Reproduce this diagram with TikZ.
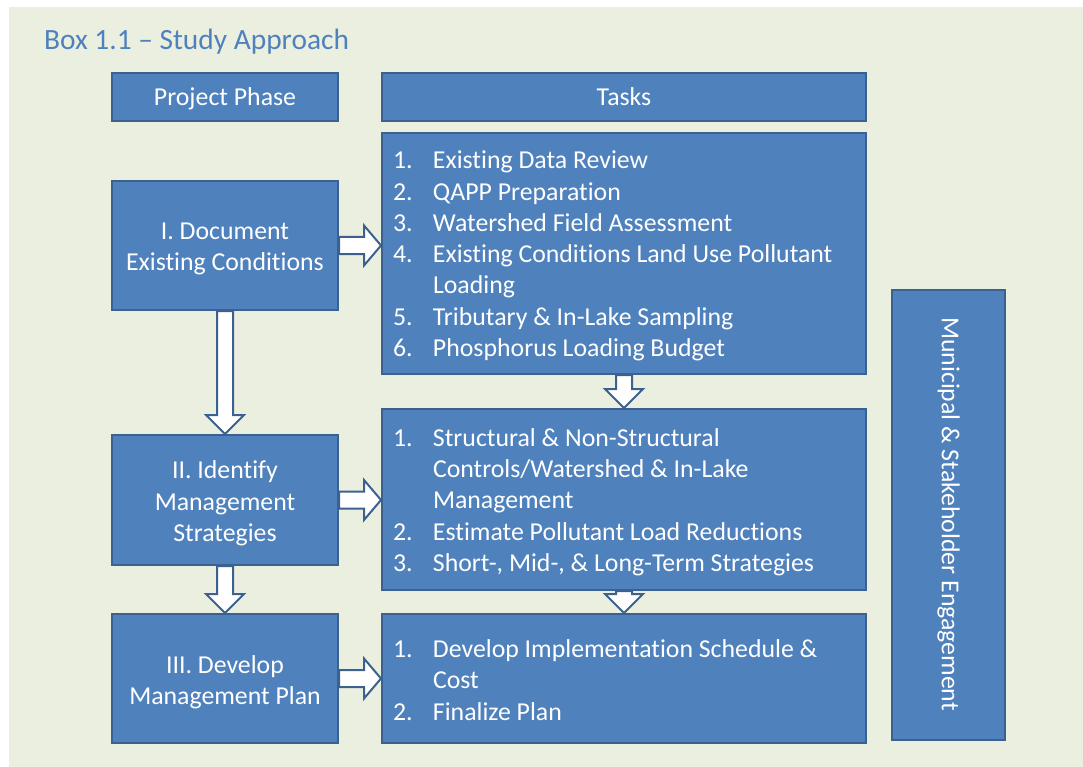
\documentclass[tikz,border=0pt]{standalone}
\usepackage{fontspec}
\setmainfont{Carlito}[Ligatures=NoCommon]
\usetikzlibrary{calc}
\definecolor{panelbg}{HTML}{EBEFE0}
\definecolor{boxfill}{HTML}{4F81BD}
\definecolor{boxline}{HTML}{3A6190}
\definecolor{titleblue}{HTML}{4F81BD}
\tikzset{
  bluebox/.style={draw=boxline, line width=2pt, fill=boxfill, rectangle, inner sep=0pt},
  phasebox/.style={bluebox, minimum width=226pt},
  taskbox/.style={bluebox, minimum width=484pt},
  boxtext/.style={text=white, inner sep=0pt, font=\fontsize{25.8}{31.3}\selectfont},
  phasetext/.style={boxtext, align=center},
  tasktext/.style={boxtext, text width=462pt, align=flush left},
  onelinetext/.style={boxtext, text height=16.5pt, text depth=0pt},
  blockarrow/.style={draw=boxline, line width=2pt, fill=white, line join=miter},
}
% horizontal block arrow from #1 to the point level with it on #2
\newcommand\hblock[2]{%
  \draw[blockarrow] let \p1=(#1), \p2=(#2) in
    (\x1,\y1+8.5pt) -- (\x2-17pt,\y1+8.5pt) -- (\x2-17pt,\y1+20pt) -- (\x2,\y1)
    -- (\x2-17pt,\y1-20pt) -- (\x2-17pt,\y1-8.5pt) -- (\x1,\y1-8.5pt) -- cycle;}
% vertical block arrow from #1 down to the point below it on #2
\newcommand\vblock[2]{%
  \draw[blockarrow] let \p1=(#1), \p2=(#2) in
    (\x1-8pt,\y1) -- (\x1-8pt,\y2+19pt) -- (\x1-19pt,\y2+19pt) -- (\x1,\y2)
    -- (\x1+19pt,\y2+19pt) -- (\x1+8pt,\y2+19pt) -- (\x1+8pt,\y1) -- cycle;}
\newcommand\itm[1]{\makebox[40pt][l]{#1}}
\begin{document}
\begin{tikzpicture}[x=1pt,y=-1pt]
  \useasboundingbox (0,0) rectangle (1083,767);
  \fill[white] (0,0) rectangle (1083,767);
  \fill[panelbg] (9,7) rectangle (1083,767);

  \node[anchor=base west, text=titleblue, font=\fontsize{29.4}{35}\selectfont, inner sep=0pt]
    (title) at (44,50) {Box 1.1 – Study Approach};

  % column headers
  \node[phasebox, minimum height=48pt] (hphase) at (225,97) {};
  \node[taskbox, minimum height=48pt] (htasks) at (624,97) {};
  \node[onelinetext] (hphasel) at (hphase.center) {Project Phase};
  \node[onelinetext] (htasksl) at (htasks.center) {Tasks};

  % project phases
  \node[phasebox, minimum height=129pt] (p1) at (225,245.5) {};
  \node[phasebox, minimum height=130pt] (p2) at (225,500) {};
  \node[phasebox, minimum height=129pt] (p3) at (225,678.5) {};
  \node[phasetext, yshift=-3.5pt] (p1l) at (p1.center) {I. Document\\Existing Conditions};
  \node[phasetext, yshift=-3.5pt] (p2l) at (p2.center) {II. Identify\\Management\\Strategies};
  \node[phasetext, yshift=-3.5pt] (p3l) at (p3.center) {III. Develop\\Management Plan};

  % task lists
  \node[taskbox, minimum height=241pt] (t1) at (624,253.5) {};
  \node[taskbox, minimum height=181pt] (t2) at (624,499.5) {};
  \node[taskbox, minimum height=129pt] (t3) at (624,678.5) {};
  \node[tasktext, yshift=-2.5pt] (t1l) at (t1.center) {%
    \itm{1.}Existing Data Review\\
    \itm{2.}QAPP Preparation\\
    \itm{3.}Watershed Field Assessment\\
    \itm{4.}Existing Conditions Land Use Pollutant\\
    \itm{}Loading\\
    \itm{5.}Tributary \& In-Lake Sampling\\
    \itm{6.}Phosphorus Loading Budget};
  \node[tasktext, yshift=-2.5pt] (t2l) at (t2.center) {%
    \itm{1.}Structural \& Non-Structural\\
    \itm{}Controls/Watershed \& In-Lake\\
    \itm{}Management\\
    \itm{2.}Estimate Pollutant Load Reductions\\
    \itm{3.}Short-, Mid-, \& Long-Term Strategies};
  \node[tasktext, yshift=-1.5pt] (t3l) at (t3.center) {%
    \itm{1.}Develop Implementation Schedule \&\\
    \itm{}Cost\\
    \itm{2.}Finalize Plan};

  % engagement bar
  \node[bluebox, minimum width=113pt, minimum height=450pt] (eng) at (948.5,515) {};
  \node[boxtext, rotate=-90, xshift=-1pt] (engl) at (eng.center) {Municipal \& Stakeholder Engagement};

  % block arrows
  \hblock{p1.east}{t1.west}
  \hblock{p2.east}{t2.west}
  \hblock{p3.east}{t3.west}
  \vblock{p1.south}{p2.north}
  \vblock{p2.south}{p3.north}
  \vblock{t1.south}{t2.north}
  \vblock{t2.south}{t3.north}
\end{tikzpicture}
\end{document}
